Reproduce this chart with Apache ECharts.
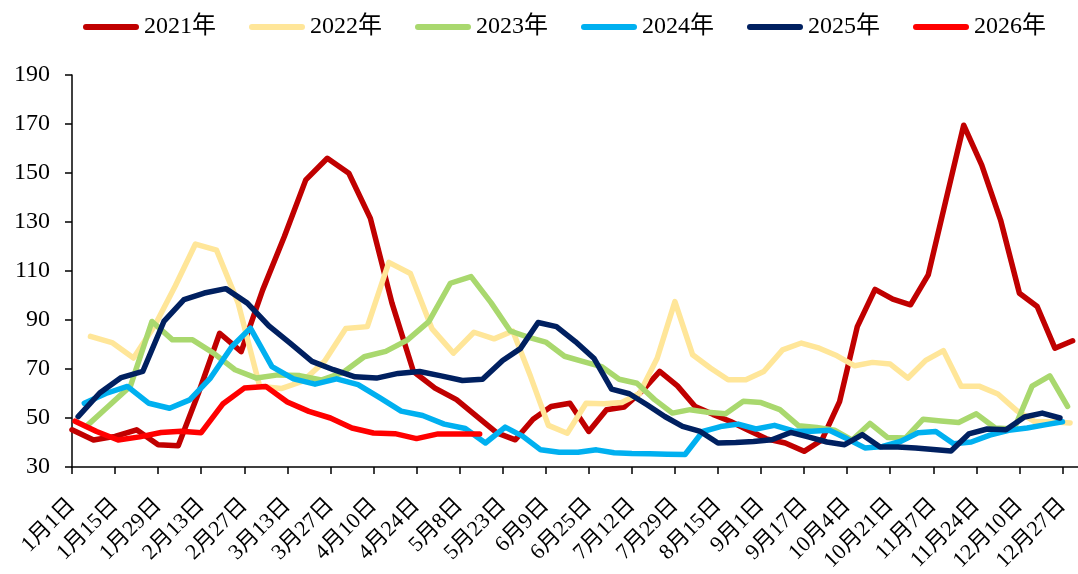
<!DOCTYPE html>
<html>
<head>
<meta charset="utf-8">
<script src="https://cdn.jsdelivr.net/npm/echarts@6/dist/echarts.min.js"></script>
<style>
html, body { margin: 0; padding: 0; background: #fff; }
#chart { width: 1078px; height: 574px; }
</style>
</head>
<body>
<div id="chart"></div>
<script>
// axis labels, evenly spaced on the chart although the day gaps differ
var tickLabels = ['1月1日', '1月15日', '1月29日', '2月13日', '2月27日', '3月13日', '3月27日', '4月10日',
    '4月24日', '5月8日', '5月23日', '6月9日', '6月25日', '7月12日', '7月29日', '8月15日', '9月1日',
    '9月17日', '10月4日', '10月21日', '11月7日', '11月24日', '12月10日', '12月27日'];

var years = ['2021年', '2022年', '2023年', '2024年', '2025年', '2026年'];
// first weekly observation (friday) of every year
var firstDates = ['2021-01-01', '2022-01-07', '2023-01-06', '2024-01-05', '2025-01-03', '2026-01-02'];
var colors = ['#C00000', '#FFE699', '#A9D86E', '#00B0F0', '#002060', '#FF0000'];

// weekly values
var v2021 = [45.2, 41, 42.5, 45.2, 39.1, 38.7, 60, 84.6, 77.1, 102.3, 124, 147.2, 156, 149.9, 131.5, 97, 69,
    62.2, 57.5, 50.7, 43.9, 41.1, 49.5, 54.7, 56, 44.5, 53.4, 54.5, 61, 69, 63.1, 54.7, 51.5, 48.6, 45,
    41.5, 39.8, 36.4, 41, 56.7, 87.3, 102.5, 98.5, 96.2, 108.4, 139, 169.5, 153.2, 130.8, 100.9, 95.5, 78.5, 81.5];
var v2022 = [83.3, 80.8, 74.5, 88, 104, 121, 118.5, 97, 63, 62, 65, 73, 86.5, 87.3, 113.5, 109, 86.5, 76.5,
    85, 82.3, 85.5, 67, 47, 43.8, 56, 55.8, 56.3, 60, 74.4, 97.5, 75.8, 70.4, 65.6, 65.6, 69, 77.8, 80.6,
    78.5, 75.4, 71.3, 72.7, 72, 66.3, 73.5, 77.5, 63, 63, 59.8, 53, 48.5, 48.5, 48];
var v2023 = [47, 55, 63, 89.4, 81.9, 81.9, 76.5, 69.7, 66.3, 67.6, 67.3, 65.5, 68.5, 75, 77.2, 81.8, 89.3,
    105, 107.7, 97, 85.5, 83, 81, 75.2, 73, 71, 65.8, 64.2, 57.5, 52, 53.4, 52.3, 51.7, 56.8, 56.3, 53.4,
    46.8, 46.1, 45, 41, 47.8, 42, 41.8, 49.5, 48.8, 48.2, 51.7, 45.9, 45.5, 63, 67.2, 54.7];
var v2024 = [56, 60, 62.9, 56, 54, 57.4, 66.3, 79.2, 86.7, 71, 66, 63.8, 66, 63.6, 58.3, 52.8, 51, 47.5,
    45.7, 39.8, 46.3, 42.5, 37, 36, 36, 37, 35.8, 35.5, 35.4, 35.2, 35.1, 44.5, 46.5, 47.5, 45.5, 47, 44.7,
    44.6, 45, 41.5, 37.8, 38.4, 40.4, 44, 44.5, 39.5, 40.2, 43, 45, 45.9, 47.2, 48.5];
var v2025 = [50.6, 60.2, 66.5, 69, 89.4, 98.3, 101, 102.8, 96.9, 87.6, 80.5, 73.1, 69.7, 66.8, 66.3, 68.2,
    69, 67.2, 65.3, 65.8, 73.5, 78.3, 89, 87.3, 81.2, 74.4, 61.8, 59.9, 55.4, 50.6, 46.6, 44.5, 39.8, 40,
    40.4, 41.1, 44.1, 42.2, 40.2, 39.1, 43.2, 38.2, 38.2, 37.8, 37.1, 36.5, 43.5, 45.5, 45.2, 50.4, 52, 50];
var v2026 = [48.7, 44.5, 41, 42.3, 44.1, 44.6, 44, 55.7, 62.2, 62.9, 56.5, 52.7, 50, 45.9, 43.9, 43.6, 41.6,
    43.5, 43.5, 43.5];

var values = [v2021, v2022, v2023, v2024, v2025, v2026];

var FONT = '"Liberation Serif", "Noto Sans CJK SC", serif';
var monthStart = [0, 31, 59, 90, 120, 151, 181, 212, 243, 273, 304, 334];

function dayOfYear(m, d) {
    return monthStart[m - 1] + d;
}

var tickDays = tickLabels.map(function (s) {
    var p = s.match(/(\d+)月(\d+)日/);
    return dayOfYear(+p[1], +p[2]);
});

// day of year -> position in label units (label k sits at k)
function dayToPos(doy) {
    for (var i = 0; i < tickDays.length - 1; i++) {
        if (doy < tickDays[i + 1]) {
            return i + (doy - tickDays[i]) / (tickDays[i + 1] - tickDays[i]);
        }
    }
    var n = tickDays.length - 1;
    return n + (doy - tickDays[n]) / (tickDays[n] - tickDays[n - 1]);
}

function weekly(first, vals) {
    var p = first.split('-');
    return vals.map(function (v, i) {
        var dt = new Date(+p[0], +p[1] - 1, +p[2] + 7 * i);
        return [dayToPos(dayOfYear(dt.getMonth() + 1, dt.getDate())), v];
    });
}

var tickIdx = tickLabels.map(function (s, i) { return i; });

var series = years.map(function (name, i) {
    return {
        name: name,
        type: 'line',
        data: weekly(firstDates[i], values[i]),
        symbol: 'none',
        color: colors[i],
        lineStyle: { width: 5.5, color: colors[i], cap: 'round', join: 'round' }
    };
});

var myChart = echarts.init(document.getElementById('chart'));
myChart.setOption({
    animation: false,
    backgroundColor: '#fff',
    legend: {
        data: years,
        left: 78,
        top: 10,
        itemWidth: 56,
        itemHeight: 6,
        itemGap: 33,
        icon: 'path://M3,0H53A3,3,0,0,1,53,6H3A3,3,0,0,1,3,0Z',
        textStyle: { fontFamily: FONT, fontSize: 24, color: '#000' }
    },
    grid: { left: 72, right: 0, top: 75, bottom: 107, outerBoundsMode: 'none' },
    xAxis: {
        type: 'value',
        min: 0,
        max: 23.36,
        interval: 1,
        splitLine: { show: false },
        axisLine: { lineStyle: { color: '#000', width: 1.5 } },
        axisTick: { customValues: tickIdx, length: 7, lineStyle: { color: '#000', width: 1.5 } },
        axisLabel: {
            customValues: tickIdx,
            rotate: 45,
            margin: 35,
            fontFamily: FONT,
            fontSize: 22,
            color: '#000',
            formatter: function (v) { return tickLabels[Math.round(v)] || ''; }
        }
    },
    yAxis: {
        type: 'value',
        min: 30,
        max: 190,
        interval: 20,
        splitLine: { show: false },
        axisLine: { show: true, lineStyle: { color: '#000', width: 1.5 } },
        axisTick: { show: true, length: 7, lineStyle: { color: '#000', width: 1.5 } },
        axisLabel: { margin: 22, fontFamily: FONT, fontSize: 24, color: '#000' }
    },
    series: series
});
</script>
</body>
</html>
